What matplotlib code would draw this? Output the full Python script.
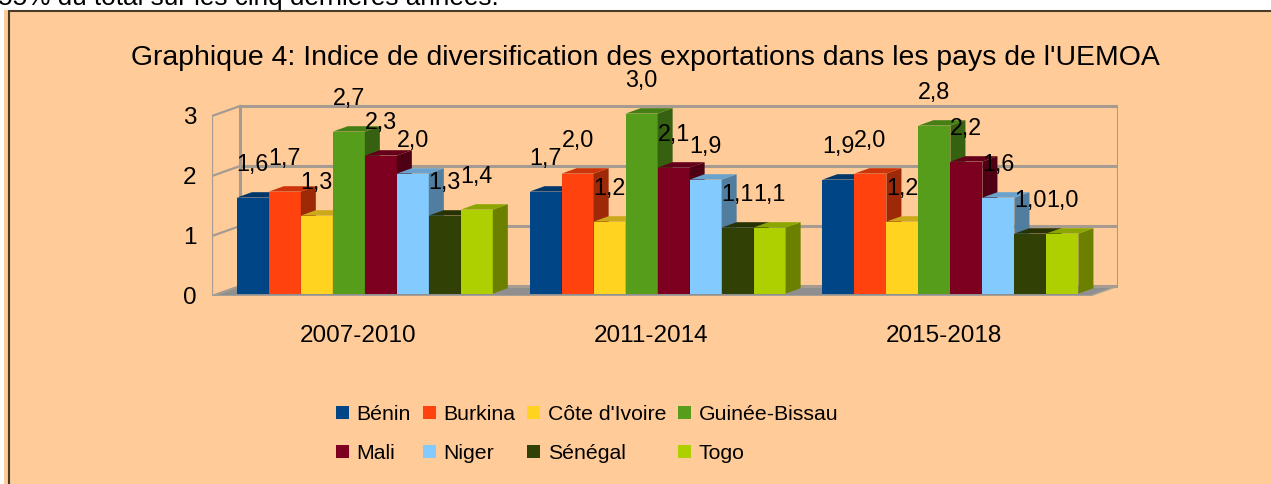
import numpy as np
import matplotlib.pyplot as plt
from matplotlib.patches import Polygon, Rectangle, Patch
import matplotlib.colors as mcolors

plt.rcParams['font.family'] = ['Liberation Sans', 'DejaVu Sans']

## Donnees du graphique
periodes = ["2007-2010", "2011-2014", "2015-2018"]
pays = ["Bénin", "Burkina", "Côte d'Ivoire", "Guinée-Bissau", "Mali", "Niger", "Sénégal", "Togo"]
benin = [1.6, 1.7, 1.9]
burkina = [1.7, 2.0, 2.0]
cote_ivoire = [1.3, 1.2, 1.2]
guinee_bissau = [2.7, 3.0, 2.8]
mali = [2.3, 2.1, 2.2]
niger = [2.0, 1.9, 1.6]
senegal = [1.3, 1.1, 1.0]
togo = [1.4, 1.1, 1.0]
series = [benin, burkina, cote_ivoire, guinee_bissau, mali, niger, senegal, togo]
couleurs = ["#004586", "#ff420e", "#ffd320", "#579d1c", "#7e0021", "#83caff", "#314004", "#aecf00"]
yticks = [0, 1, 2, 3]

titre = "Graphique 4: Indice de diversification des exportations dans les pays de l'UEMOA"
texte_haut = "55% du total sur les cinq dernières années."

## Geometrie (effet 3D)
WPX, HPX = 1271, 484
px_x, px_y = 32.0, 60.0     # pixels par unite
W = 9.15                     # largeur d'une categorie (en largeurs de barre)
xfront = len(periodes) * W
dxw, dyw = 0.875, 10 / px_y  # profondeur des murs
xmax = xfront + dxw
bx0, by0 = 0.2, 0.04         # recul de la face avant des barres
dxb, dyb = 0.47, 0.09        # profondeur des barres
ytop = 3.3

def sombre(c, f):
    r, g, b = mcolors.to_rgb(c)
    return (r * f, g * f, b * f)

fig = plt.figure(figsize=(WPX / 100, HPX / 100), dpi=100)
fig.patch.set_facecolor("white")

# fond peche + cadre
fig.patches.append(Rectangle((4 / WPX, 0), 1, 1 - 10 / HPX, transform=fig.transFigure,
                             facecolor="#ffcc99", edgecolor="none", zorder=-10))
fig.patches.append(Rectangle((9 / WPX, -0.1), 1, 1.1 - 11 / HPX, transform=fig.transFigure,
                             facecolor="none", edgecolor="#4a3a2a", lw=1.5, zorder=-5))
fig.text(-2 / WPX, 1 - 5 / HPX, texte_haut, fontsize=18.8, va="baseline", ha="left")

ax = fig.add_axes([212 / WPX, (HPX - 296) / HPX, xmax * px_x / WPX, ytop * px_y / HPX])
ax.set_xlim(0, xmax)
ax.set_ylim(0, ytop)
ax.patch.set_visible(False)
for s in ax.spines.values():
    s.set_visible(False)

gris = "#a59b91"
# sol
ax.add_patch(Polygon([(0, 0), (xfront, 0), (xmax, dyw), (dxw, dyw)], closed=True,
                     facecolor="#8f8f8f", edgecolor="#b0a698", lw=1, zorder=1))
# murs
for v in yticks:
    ax.plot([dxw, xmax], [v + dyw, v + dyw], color=gris, lw=2.2, zorder=1.5)
    ax.plot([0, dxw], [v, v + dyw], color=gris, lw=1.6, zorder=1.5)
ax.plot([0, 0], [0, 3], color=gris, lw=1.6, zorder=1.5)
ax.plot([dxw, dxw], [dyw, 3 + dyw], color=gris, lw=2.2, zorder=1.5)
ax.plot([xmax, xmax], [dyw, 3 + dyw], color=gris, lw=2.2, zorder=1.5)

# barres
nb = len(series)
for i, (vals, c) in enumerate(zip(series, couleurs)):
    z = 3 + i
    xl = np.arange(len(periodes)) * W + (W - nb) / 2 + i + bx0
    ax.bar(xl, vals, width=1, bottom=by0, align="edge", color=c, lw=0, zorder=z)
    for x, v in zip(xl, vals):
        xr = x + 1
        ax.add_patch(Polygon([(xr, by0), (xr + dxb, by0 + dyb), (xr + dxb, by0 + v + dyb), (xr, by0 + v)],
                             closed=True, facecolor=sombre(c, 0.62), lw=0, zorder=z))
        ax.add_patch(Polygon([(x, by0 + v), (x + dxb, by0 + v + dyb), (xr + dxb, by0 + v + dyb), (xr, by0 + v)],
                             closed=True, facecolor=sombre(c, 0.8), lw=0, zorder=z))
        ax.text(x + 0.5, by0 + v + 0.55, f"{v:.1f}".replace(".", ","), ha="center", va="center",
                fontsize=16.8, zorder=20)

ax.set_yticks(yticks)
ax.set_xticks([W * (g + 0.5) for g in range(len(periodes))])
ax.set_xticklabels(periodes)
ax.tick_params(axis="y", length=0, pad=11, labelsize=17.5)
ax.tick_params(axis="x", length=0, pad=21, labelsize=17.5)

fig.text(645 / WPX, 1 - 58 / HPX, titre, fontsize=20.4, ha="center", va="center")

# legende (rangee par rangee)
ordre = [0, 4, 1, 5, 2, 6, 3, 7]
handles = [Patch(facecolor=couleurs[k]) for k in ordre]
labels = [pays[k] for k in ordre]
fig.legend(handles, labels, ncol=4, loc="center", bbox_to_anchor=(587 / WPX, 1 - 434 / HPX),
           frameon=False, fontsize=15.3, handlelength=0.62, handleheight=0.62,
           handletextpad=0.35, columnspacing=0.55, labelspacing=0.95, borderpad=0)

fig.savefig("out.png", dpi=100)
